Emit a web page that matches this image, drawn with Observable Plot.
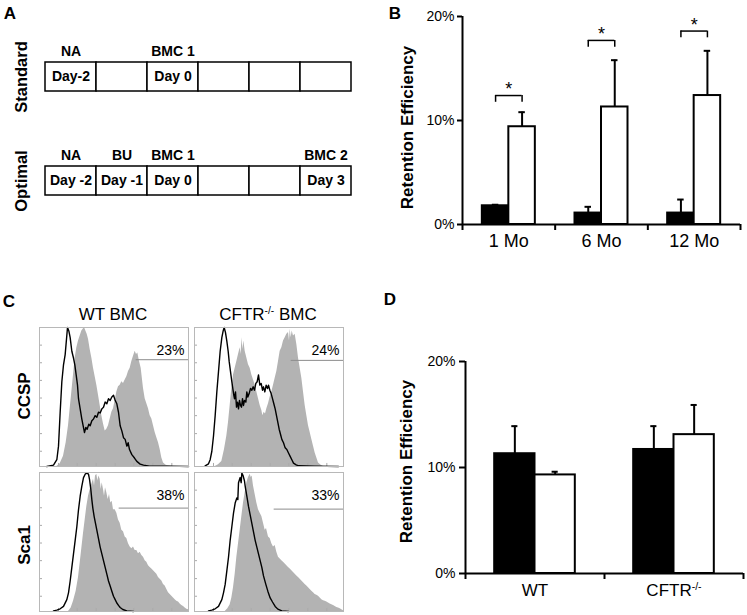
<!DOCTYPE html>
<html>
<head>
<meta charset="utf-8">
<script src="https://cdn.jsdelivr.net/npm/d3@7"></script>
<script src="https://cdn.jsdelivr.net/npm/@observablehq/plot@0.6"></script>
<style>
  html, body { margin: 0; padding: 0; background: #fff; }
  #fig { position: relative; width: 747px; height: 615px; background: #fff; overflow: hidden;
         font-family: "Liberation Sans", Arial, Helvetica, sans-serif; color: #000; }
  #fig > svg, #fig > div.p { position: absolute; }
  .lab { position: absolute; white-space: nowrap; line-height: 1; transform: translate(-50%, -50%); }
  .rot { transform: translate(-50%, -50%) rotate(-90deg); }
  sup { font-size: 0.6em; vertical-align: 0; position: relative; top: -0.55em; }
</style>
</head>
<body>
<div id="fig"></div>
<script>
// ---------------- DATA ----------------
// Panel A: protocol timelines
const protocols = ["Standard", "Optimal"];
const standardDays = ["Day-2", "", "Day 0", "", "", ""];
const standardEvents = ["NA", "", "BMC 1", "", "", ""];
const optimalDays = ["Day -2", "Day -1", "Day 0", "", "", "Day 3"];
const optimalEvents = ["NA", "BU", "BMC 1", "", "", "BMC 2"];

// Panel B: retention efficiency (%) over time
const timepoints = ["1 Mo", "6 Mo", "12 Mo"];
const standardB = [1.8, 1.1, 1.1];
const standardErrB = [0.1, 0.6, 1.3];
const optimalB = [9.4, 11.3, 12.4];
const optimalErrB = [1.4, 4.5, 4.3];
const sigLevelB = [12.4, 17.7, 18.6];
const sigMarkB = ["*", "*", "*"];
const ticksB = [0, 10, 20];

// Panel D: retention efficiency (%) by recipient genotype
const genotypes = ["WT", "CFTR-/-"];
const blackD = [11.3, 11.7];
const blackErrD = [2.6, 2.2];
const whiteD = [9.3, 13.1];
const whiteErrD = [0.3, 2.8];
const ticksD = [0, 10, 20];

// Panel C: flow cytometry histograms [channel, count]; gray = stained, line = control
const wtCcspGray = [[52,0],[62,8],[72,30],[80,70],[87,120],[92,170],[97,220],[102,270],[107,320],[112,350],[117,370],[122,385],[127,400],[131,405],[135,410],[139,400],[143,390],[147,375],[152,345],[157,320],[162,290],[167,265],[172,240],[177,210],[182,180],[187,150],[192,125],[197,105],[202,110],[207,120],[212,140],[217,160],[222,170],[227,195],[232,220],[237,235],[242,240],[247,250],[252,245],[257,255],[262,265],[267,280],[272,290],[277,310],[282,325],[287,340],[291,330],[295,335],[300,310],[305,290],[312,230],[317,200],[322,185],[327,170],[332,150],[337,140],[342,120],[347,100],[352,85],[357,70],[362,50],[367,25],[372,10],[380,4],[387,2],[400,0]];
const wtCcspLine = [[22,0],[42,4],[52,20],[57,60],[62,160],[67,250],[72,300],[77,330],[84,410],[88,400],[92,380],[97,340],[102,320],[106,300],[110,270],[114,240],[117,200],[122,170],[127,140],[131,120],[135,100],[139,115],[143,110],[148,125],[152,120],[157,135],[162,140],[167,150],[172,145],[177,160],[182,158],[187,170],[192,175],[197,190],[202,185],[207,200],[212,195],[217,205],[222,210],[227,195],[232,185],[237,160],[242,120],[247,105],[252,85],[257,80],[262,60],[266,70],[270,50],[277,35],[285,25],[292,15],[302,7],[312,4],[330,1],[392,1],[447,0]];
const cftrCcspGray = [[62,0],[72,5],[82,15],[90,50],[97,90],[102,130],[107,180],[112,230],[117,270],[122,290],[127,310],[132,330],[137,350],[140,330],[142,380],[145,345],[148,370],[152,340],[157,320],[162,300],[167,290],[172,270],[177,255],[182,240],[187,220],[192,200],[197,180],[202,165],[205,150],[209,160],[213,155],[217,170],[222,185],[227,205],[232,220],[237,240],[242,260],[247,280],[252,310],[257,340],[262,350],[267,370],[272,380],[277,390],[282,395],[285,370],[287,405],[290,380],[293,400],[297,385],[302,390],[307,360],[312,320],[317,290],[322,260],[327,220],[332,180],[337,150],[342,120],[347,100],[352,80],[357,60],[362,40],[367,25],[372,10],[380,4],[387,0]];
const cftrCcspLine = [[32,2],[42,8],[47,20],[52,45],[57,90],[62,150],[67,220],[72,280],[77,340],[82,380],[86,400],[89,410],[93,395],[97,370],[101,340],[104,310],[108,280],[112,250],[115,230],[118,210],[120,200],[123,220],[126,175],[129,190],[132,170],[135,195],[138,180],[141,175],[144,200],[147,180],[150,195],[154,190],[157,220],[160,205],[164,215],[168,230],[172,225],[176,235],[180,225],[184,245],[188,250],[192,270],[196,240],[200,245],[204,225],[207,235],[211,220],[215,240],[219,230],[222,240],[226,225],[230,215],[234,200],[238,185],[242,170],[246,150],[250,130],[254,110],[258,95],[262,80],[267,70],[272,55],[277,50],[282,40],[287,30],[292,20],[297,10],[305,5],[312,2],[360,1],[432,0]];
const wtSca1Gray = [[87,0],[95,10],[102,30],[110,60],[117,100],[124,160],[132,230],[137,270],[142,310],[147,340],[152,360],[157,375],[162,390],[165,370],[168,400],[172,405],[175,385],[178,400],[182,390],[185,360],[188,380],[192,360],[195,340],[198,365],[202,350],[206,330],[210,345],[214,320],[218,325],[222,300],[227,300],[232,290],[237,270],[242,260],[247,240],[252,235],[257,220],[262,215],[267,200],[272,190],[277,185],[282,190],[287,180],[292,180],[297,170],[302,175],[307,165],[312,160],[317,150],[322,145],[327,135],[332,130],[337,125],[342,120],[347,115],[352,110],[357,100],[362,95],[367,90],[372,80],[377,75],[382,65],[387,55],[392,50],[397,45],[402,40],[407,35],[412,30],[417,28],[422,22],[427,18],[432,15],[437,10],[442,7],[447,5]];
const wtSca1Line = [[42,2],[52,4],[62,8],[72,15],[82,35],[87,55],[92,90],[97,130],[102,170],[107,210],[112,250],[117,300],[122,340],[127,370],[132,395],[137,405],[142,408],[147,405],[150,390],[154,360],[157,330],[160,305],[164,280],[168,260],[172,240],[177,215],[182,190],[187,170],[192,150],[197,130],[202,110],[207,90],[212,75],[217,60],[222,45],[227,35],[232,25],[237,18],[242,12],[250,6],[262,2],[282,0]];
const cftrSca1Gray = [[92,0],[100,8],[107,20],[112,40],[117,70],[122,110],[127,160],[132,200],[137,240],[142,280],[147,320],[152,350],[157,380],[162,395],[167,405],[170,395],[173,400],[177,370],[182,345],[187,320],[192,300],[197,290],[202,280],[207,260],[212,240],[216,245],[222,220],[227,215],[232,200],[237,190],[242,195],[247,175],[252,160],[257,155],[262,150],[267,145],[272,140],[277,135],[282,130],[287,125],[292,120],[297,115],[302,110],[307,105],[312,100],[317,95],[322,90],[327,85],[332,80],[337,75],[342,70],[347,65],[352,60],[357,55],[362,50],[367,48],[372,45],[377,40],[382,35],[387,32],[392,30],[397,28],[402,25],[407,22],[412,20],[417,18],[422,15],[427,12],[432,10],[437,8],[442,5],[447,2]];
const cftrSca1Line = [[42,2],[52,4],[62,8],[72,15],[82,35],[87,55],[92,80],[97,120],[102,160],[107,210],[112,250],[117,290],[122,320],[127,335],[130,330],[132,380],[137,395],[140,380],[142,408],[146,400],[150,385],[152,370],[157,340],[162,310],[167,285],[172,260],[177,235],[182,210],[187,190],[192,170],[197,150],[202,130],[207,105],[214,80],[220,60],[227,40],[234,28],[242,15],[250,7],[262,2],[282,0]];
const gatePercents = ["23%", "24%", "38%", "33%"];
const gateStarts = [290, 290, 239, 239];
const gateLevels = [315, 313, 305, 302];
const histTicksX = [57, 113, 170, 227, 283, 340, 397];
const histTicksY = [45, 97, 150, 202, 254, 306, 358];

// ---------------- LAYOUT HELPERS ----------------
const fig = document.getElementById("fig");
const FONT = '"Liberation Sans", Arial, Helvetica, sans-serif';
const baseStyle = {fontFamily: FONT, fontSize: "14px", color: "#000", background: "transparent", overflow: "visible"};
function place(node, left, top) { node.style.left = left + "px"; node.style.top = top + "px"; fig.appendChild(node); return node; }
function label(html, cx, cy, size, weight, rotate) {
  const d = document.createElement("div");
  d.className = "lab" + (rotate ? " rot" : "");
  d.innerHTML = html;
  d.style.fontSize = size + "px";
  d.style.fontWeight = weight || "normal";
  d.style.left = cx + "px"; d.style.top = cy + "px";
  fig.appendChild(d);
}

// ---------------- PANEL A ----------------
const cellsA = protocols.flatMap(p => {
  const days = p === "Standard" ? standardDays : optimalDays;
  const events = p === "Standard" ? standardEvents : optimalEvents;
  return days.map((d, i) => ({row: p, col: i, day: d, event: events[i]}));
});
const plotA = Plot.plot({
  width: 370, height: 260, margin: 0,
  style: baseStyle,
  x: {type: "band", domain: d3.range(standardDays.length), range: [43, 352], padding: 0, axis: null},
  y: {type: "band", domain: protocols, range: [62, 196], paddingInner: 0.72, paddingOuter: 0, axis: null},
  marks: [
    Plot.cell(cellsA, {x: "col", y: "row", fill: "white", stroke: "black", strokeWidth: 1.5}),
    Plot.text(cellsA, {x: "col", y: "row", text: "day", fontSize: 14, fontWeight: "bold"}),
    Plot.text(cellsA, {x: "col", y: "row", text: "event", dy: -25, fontSize: 14, fontWeight: "bold"}),
    Plot.text(protocols, {y: d => d, text: d => d, frameAnchor: "left", textAnchor: "middle", dx: 21, rotate: -90, fontSize: 16.5, fontWeight: "bold"})
  ]
});
place(plotA, 0, 0);

// ---------------- PANEL B ----------------
const wB = 0.286, capB = 0.035;
const barsB = timepoints.flatMap((t, i) => [
  {t: i, g: 0, v: standardB[i], e: standardErrB[i]},
  {t: i, g: 1, v: optimalB[i], e: optimalErrB[i]}
]).map(d => ({...d, x1: d.t + (d.g - 1) * wB, x2: d.t + d.g * wB, xc: d.t + (d.g - 0.5) * wB, top: d.v + d.e}));
const sigB = timepoints.map((t, i) => ({t: i, y: sigLevelB[i], mark: sigMarkB[i]}));
const legB = 0.65;
const plotB = Plot.plot({
  width: 377, height: 260, marginLeft: 92, marginRight: 7, marginTop: 16, marginBottom: 36,
  style: baseStyle,
  x: {domain: [-0.5, timepoints.length - 0.5], axis: null},
  y: {domain: [0, 20], axis: null},
  marks: [
    Plot.rectY(barsB, {x1: "x1", x2: "x2", y1: 0, y2: "v", fill: d => d.g ? "white" : "black", stroke: "black", strokeWidth: 2}),
    Plot.ruleX(barsB, {x: "xc", y1: "v", y2: "top", strokeWidth: 2}),
    Plot.ruleY(barsB, {y: "top", x1: d => d.xc - capB, x2: d => d.xc + capB, strokeWidth: 2}),
    Plot.ruleY(sigB, {y: "y", x1: d => d.t - wB / 2, x2: d => d.t + wB / 2, strokeWidth: 1.5}),
    Plot.ruleX(sigB, {x: d => d.t - wB / 2, y1: d => d.y - legB, y2: "y", strokeWidth: 1.5}),
    Plot.ruleX(sigB, {x: d => d.t + wB / 2, y1: d => d.y - legB, y2: "y", strokeWidth: 1.5}),
    Plot.text(sigB, {x: "t", y: "y", text: "mark", dy: -6, fontSize: 18}),
    Plot.ruleX([-0.5], {strokeWidth: 2}),
    Plot.ruleY([0], {strokeWidth: 2}),
    Plot.axisY({ticks: ticksB, tickFormat: d => d + "%", tickSize: 5, tickPadding: 3, fontSize: 14, strokeWidth: 2}),
    Plot.axisX({ticks: d3.range(timepoints.length + 1).map(i => i - 0.5), tickFormat: () => "", tickSize: 6, strokeWidth: 2}),
    Plot.axisX({ticks: d3.range(timepoints.length), tickFormat: i => timepoints[i], tickSize: 0, tickPadding: 10, fontSize: 18}),
    Plot.text(["Retention Efficiency"], {frameAnchor: "left", textAnchor: "middle", dx: -55, dy: 7, rotate: -90, fontSize: 17, fontWeight: "bold"})
  ]
});
place(plotB, 370, 0);

// ---------------- PANEL D ----------------
const wD = 0.29, capD = 0.022;
const barsD = genotypes.flatMap((g, i) => [
  {t: i, g: 0, v: blackD[i], e: blackErrD[i]},
  {t: i, g: 1, v: whiteD[i], e: whiteErrD[i]}
]).map(d => ({...d, x1: d.t + (d.g - 1) * wD, x2: d.t + d.g * wD, xc: d.t + (d.g - 0.5) * wD, top: d.v + d.e}));
const plotD = Plot.plot({
  width: 377, height: 275, marginLeft: 95, marginRight: 4, marginTop: 21, marginBottom: 42,
  style: baseStyle,
  x: {domain: [-0.5, genotypes.length - 0.5], axis: null},
  y: {domain: [0, 20], axis: null},
  marks: [
    Plot.rectY(barsD, {x1: "x1", x2: "x2", y1: 0, y2: "v", fill: d => d.g ? "white" : "black", stroke: "black", strokeWidth: 2}),
    Plot.ruleX(barsD, {x: "xc", y1: "v", y2: "top", strokeWidth: 2}),
    Plot.ruleY(barsD, {y: "top", x1: d => d.xc - capD, x2: d => d.xc + capD, strokeWidth: 2}),
    Plot.ruleX([-0.5], {strokeWidth: 2}),
    Plot.ruleY([0], {strokeWidth: 2}),
    Plot.axisY({ticks: ticksD, tickFormat: d => d + "%", tickSize: 6, tickPadding: 4, fontSize: 14, strokeWidth: 2}),
    Plot.axisX({ticks: d3.range(genotypes.length + 1).map(i => i - 0.5), tickFormat: () => "", tickSize: 6, strokeWidth: 2}),
    Plot.axisX({ticks: d3.range(genotypes.length), tickFormat: i => genotypes[i], tickSize: 0, tickPadding: 10, fontSize: 17}),
    Plot.text(["Retention Efficiency"], {frameAnchor: "left", textAnchor: "middle", dx: -59, dy: -6, rotate: -90, fontSize: 17, fontWeight: "bold"})
  ]
});
// superscript for genotype label
d3.select(plotD).selectAll("text").each(function () {
  if (this.textContent === "CFTR-/-") {
    const t = d3.select(this);
    t.text(null);
    t.append("tspan").text("CFTR");
    t.append("tspan").attr("font-size", "0.62em").attr("dy", "-0.55em").text("-/-");
  }
});
place(plotD, 370, 340);

// ---------------- PANEL C ----------------
const hists = [
  {gray: wtCcspGray, line: wtCcspLine, left: 38, top: 326},
  {gray: cftrCcspGray, line: cftrCcspLine, left: 193, top: 326},
  {gray: wtSca1Gray, line: wtSca1Line, left: 38, top: 471},
  {gray: cftrSca1Gray, line: cftrSca1Line, left: 193, top: 471}
];
hists.forEach((h, i) => {
  const p = Plot.plot({
    width: 151, height: 141, margin: 1,
    style: baseStyle,
    x: {domain: [0, 447], axis: null},
    y: {domain: [0, 410], axis: null},
    marks: [
      Plot.areaY(h.gray, {x: d => d[0], y: d => d[1], fill: "#b3b3b3"}),
      Plot.ruleX(histTicksX, {x: d => d, y1: 0, y2: 9, stroke: "#aaa"}),
      Plot.ruleY(histTicksY, {y: d => d, x1: 0, x2: 9, stroke: "#aaa"}),
      Plot.lineY(h.line, {x: d => d[0], y: d => d[1], stroke: "black", strokeWidth: 1.4}),
      Plot.ruleY([gateLevels[i]], {y: d => d, x1: gateStarts[i], x2: 447, stroke: "#8c8c8c", strokeWidth: 1}),
      Plot.text([gatePercents[i]], {frameAnchor: "top-right", dx: -4, dy: 18, text: d => d, fontSize: 14}),
      Plot.frame({stroke: "#b8b8b8", strokeWidth: 1})
    ]
  });
  place(p, h.left, h.top);
});

// ---------------- FREE LABELS ----------------
label("A", 10, 13, 17, "bold");
label("B", 395, 12.5, 17, "bold");
label("C", 9, 301, 17, "bold");
label("D", 390, 299, 17, "bold");
label("WT BMC", 113, 314, 17, "normal");
label("CFTR<sup>-/-</sup> BMC", 268, 314, 17, "normal");
label("CCSP", 24, 396, 17, "bold", true);
label("Sca1", 24, 545, 17, "bold", true);
</script>
</body>
</html>
